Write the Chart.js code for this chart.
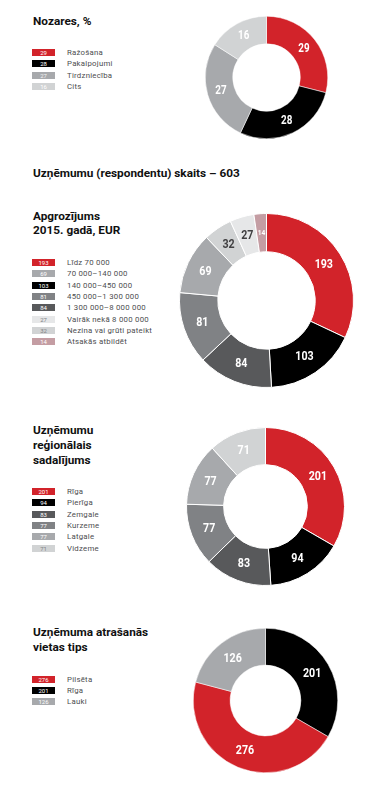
<!DOCTYPE html>
<html lang="lv">
<head>
<meta charset="utf-8">
<script src="https://cdn.jsdelivr.net/npm/chart.js@4"></script>
<style>
  html, body { margin: 0; padding: 0; background: #fff; }
  #page { position: relative; width: 387px; height: 789px; overflow: hidden; background: #fff; }
  .title { position: absolute; left: 33px; font-family: Roboto, "Noto Sans", sans-serif; font-weight: 700; font-size: 11.8px; color: #111; white-space: nowrap; }
  .row { position: absolute; left: 32px; height: 8px; display: flex; align-items: center; }
  .sw { width: 23px; height: 7px; font-family: Roboto, sans-serif; font-size: 6px; line-height: 7px; text-align: center; }
  .lab { margin-left: 12px; font-family: Roboto, "Noto Sans", sans-serif; font-size: 7.8px; color: #4d4d4f; letter-spacing: 0.25px; white-space: nowrap; }
  canvas { position: absolute; }
</style>
</head>
<body>
<div id="page">
  <div class="title" style="top:14px">Nozares, %</div>
  <div class="title" style="top:166px">Uzņēmumu (respondentu) skaits – 603</div>
  <div class="title" style="top:209px;line-height:14px">Apgrozījums<br>2015. gadā, EUR</div>
  <div class="title" style="top:423px;line-height:15px">Uzņēmumu<br>reģionālais<br>sadalījums</div>
  <div class="title" style="top:625px;line-height:15px">Uzņēmuma atrašanās<br>vietas tips</div>
</div>
<script>
// Nozares, %
const nozaresLabels = ['Ražošana', 'Pakalpojumi', 'Tirdzniecība', 'Cits'];
const nozaresValues = [29, 28, 27, 16];
const nozaresLegendOrder = [0, 1, 2, 3];

// Apgrozījums 2015. gadā, EUR (slice order, clockwise from top)
const apgrLabels = ['Līdz 70 000', '140 000–450 000', '1 300 000–8 000 000', '450 000–1 300 000',
  '70 000–140 000', 'Nezina vai grūti pateikt', 'Vairāk nekā 8 000 000', 'Atsakās atbildēt'];
const apgrValues = [193, 103, 84, 81, 69, 32, 27, 14];
const apgrLegendOrder = [0, 4, 1, 3, 2, 6, 5, 7];

// Reģionālais sadalījums
const regLabels = ['Rīga', 'Pierīga', 'Zemgale', 'Kurzeme', 'Latgale', 'Vidzeme'];
const regValues = [201, 94, 83, 77, 77, 71];
const regLegendOrder = [0, 1, 2, 3, 4, 5];

// Atrašanās vietas tips
const vietaLabels = ['Rīga', 'Pilsēta', 'Lauki'];
const vietaValues = [201, 276, 126];
const vietaLegendOrder = [1, 0, 2];

const RED = '#d2232a', BLACK = '#000000', DARK = '#58595b', MID = '#808285',
      GREY = '#a7a9ac', LIGHT = '#d1d3d4', PALE = '#e6e7e8', PINK = '#c49da3';

// numbers on the slices, squeezed a bit to look like a condensed face
const sliceLabels = {
  id: 'sliceLabels',
  afterDatasetsDraw(chart, args, opts) {
    const ctx = chart.ctx;
    const data = chart.data.datasets[0].data;
    chart.getDatasetMeta(0).data.forEach((arc, i) => {
      const p = arc.tooltipPosition();
      const size = (opts.sizes && opts.sizes[i]) || opts.size;
      ctx.save();
      ctx.translate(p.x, p.y + 0.5);
      ctx.scale(0.82, 1);
      ctx.fillStyle = opts.colors[i];
      ctx.font = 'bold ' + size + 'px Roboto, "Noto Sans", sans-serif';
      ctx.textAlign = 'center';
      ctx.textBaseline = 'middle';
      ctx.fillText(data[i], 0, 0);
      ctx.restore();
    });
  }
};

function makeDonut(cfg) {
  const page = document.getElementById('page');
  const size = cfg.r * 2 + 1;
  const canvas = document.createElement('canvas');
  canvas.width = size;
  canvas.height = size;
  canvas.style.left = (cfg.cx - size / 2) + 'px';
  canvas.style.top = (cfg.cy - size / 2) + 'px';
  page.appendChild(canvas);

  new Chart(canvas.getContext('2d'), {
    type: 'doughnut',
    data: {
      labels: cfg.labels,
      datasets: [{
        data: cfg.values,
        backgroundColor: cfg.colors,
        borderColor: '#ffffff',
        borderWidth: cfg.border,
        hoverOffset: 0
      }]
    },
    options: {
      responsive: false,
      animation: false,
      events: [],
      cutout: cfg.cutout,
      layout: { padding: 0 },
      plugins: {
        legend: { display: false },
        tooltip: { enabled: false },
        sliceLabels: { colors: cfg.textColors, size: cfg.fontSize, sizes: cfg.fontSizes }
      }
    },
    plugins: [sliceLabels]
  });

  // legend rows built from the same arrays
  cfg.legendOrder.forEach((idx, k) => {
    const row = document.createElement('div');
    row.className = 'row';
    row.style.top = (cfg.legendY + k * 11.35 - 4) + 'px';
    row.innerHTML = `<div class="sw" style="background:${cfg.colors[idx]};color:${cfg.swatchText[idx]}">${cfg.values[idx]}</div>` +
      `<div class="lab">${cfg.labels[idx]}</div>`;
    page.appendChild(row);
  });
}

makeDonut({
  labels: nozaresLabels, values: nozaresValues, legendOrder: nozaresLegendOrder,
  colors: [RED, BLACK, GREY, LIGHT],
  textColors: ['#fff', '#fff', '#fff', '#fff'],
  swatchText: ['#fff', '#fff', '#f2f2f2', '#fff'],
  cx: 266.5, cy: 77, r: 61, cutout: '55%', border: 0.5, fontSize: 12, legendY: 52.3
});

makeDonut({
  labels: apgrLabels, values: apgrValues, legendOrder: apgrLegendOrder,
  colors: [RED, BLACK, DARK, MID, GREY, LIGHT, PALE, PINK],
  textColors: ['#fff', '#fff', '#fff', '#fff', '#fff', '#414042', '#414042', '#fff'],
  swatchText: ['#fff', '#fff', '#fff', '#fff', '#fff', '#808285', '#808285', '#fff'],
  cx: 266, cy: 300, r: 87, cutout: '56%', border: 1, fontSize: 13,
  fontSizes: [0, 0, 0, 0, 0, 0, 0, 8], legendY: 262.3
});

makeDonut({
  labels: regLabels, values: regValues, legendOrder: regLegendOrder,
  colors: [RED, BLACK, DARK, MID, GREY, LIGHT],
  textColors: ['#fff', '#fff', '#fff', '#fff', '#fff', '#fff'],
  swatchText: ['#fff', '#fff', '#fff', '#fff', '#fff', '#808285'],
  cx: 265, cy: 506, r: 79, cutout: '53%', border: 1, fontSize: 13, legendY: 491.3
});

makeDonut({
  labels: vietaLabels, values: vietaValues, legendOrder: vietaLegendOrder,
  colors: [BLACK, RED, GREY],
  textColors: ['#fff', '#fff', '#fff'],
  swatchText: ['#fff', '#fff', '#fff'],
  cx: 265, cy: 700, r: 72, cutout: '49%', border: 0.5, fontSize: 13, legendY: 679
});
</script>
</body>
</html>
